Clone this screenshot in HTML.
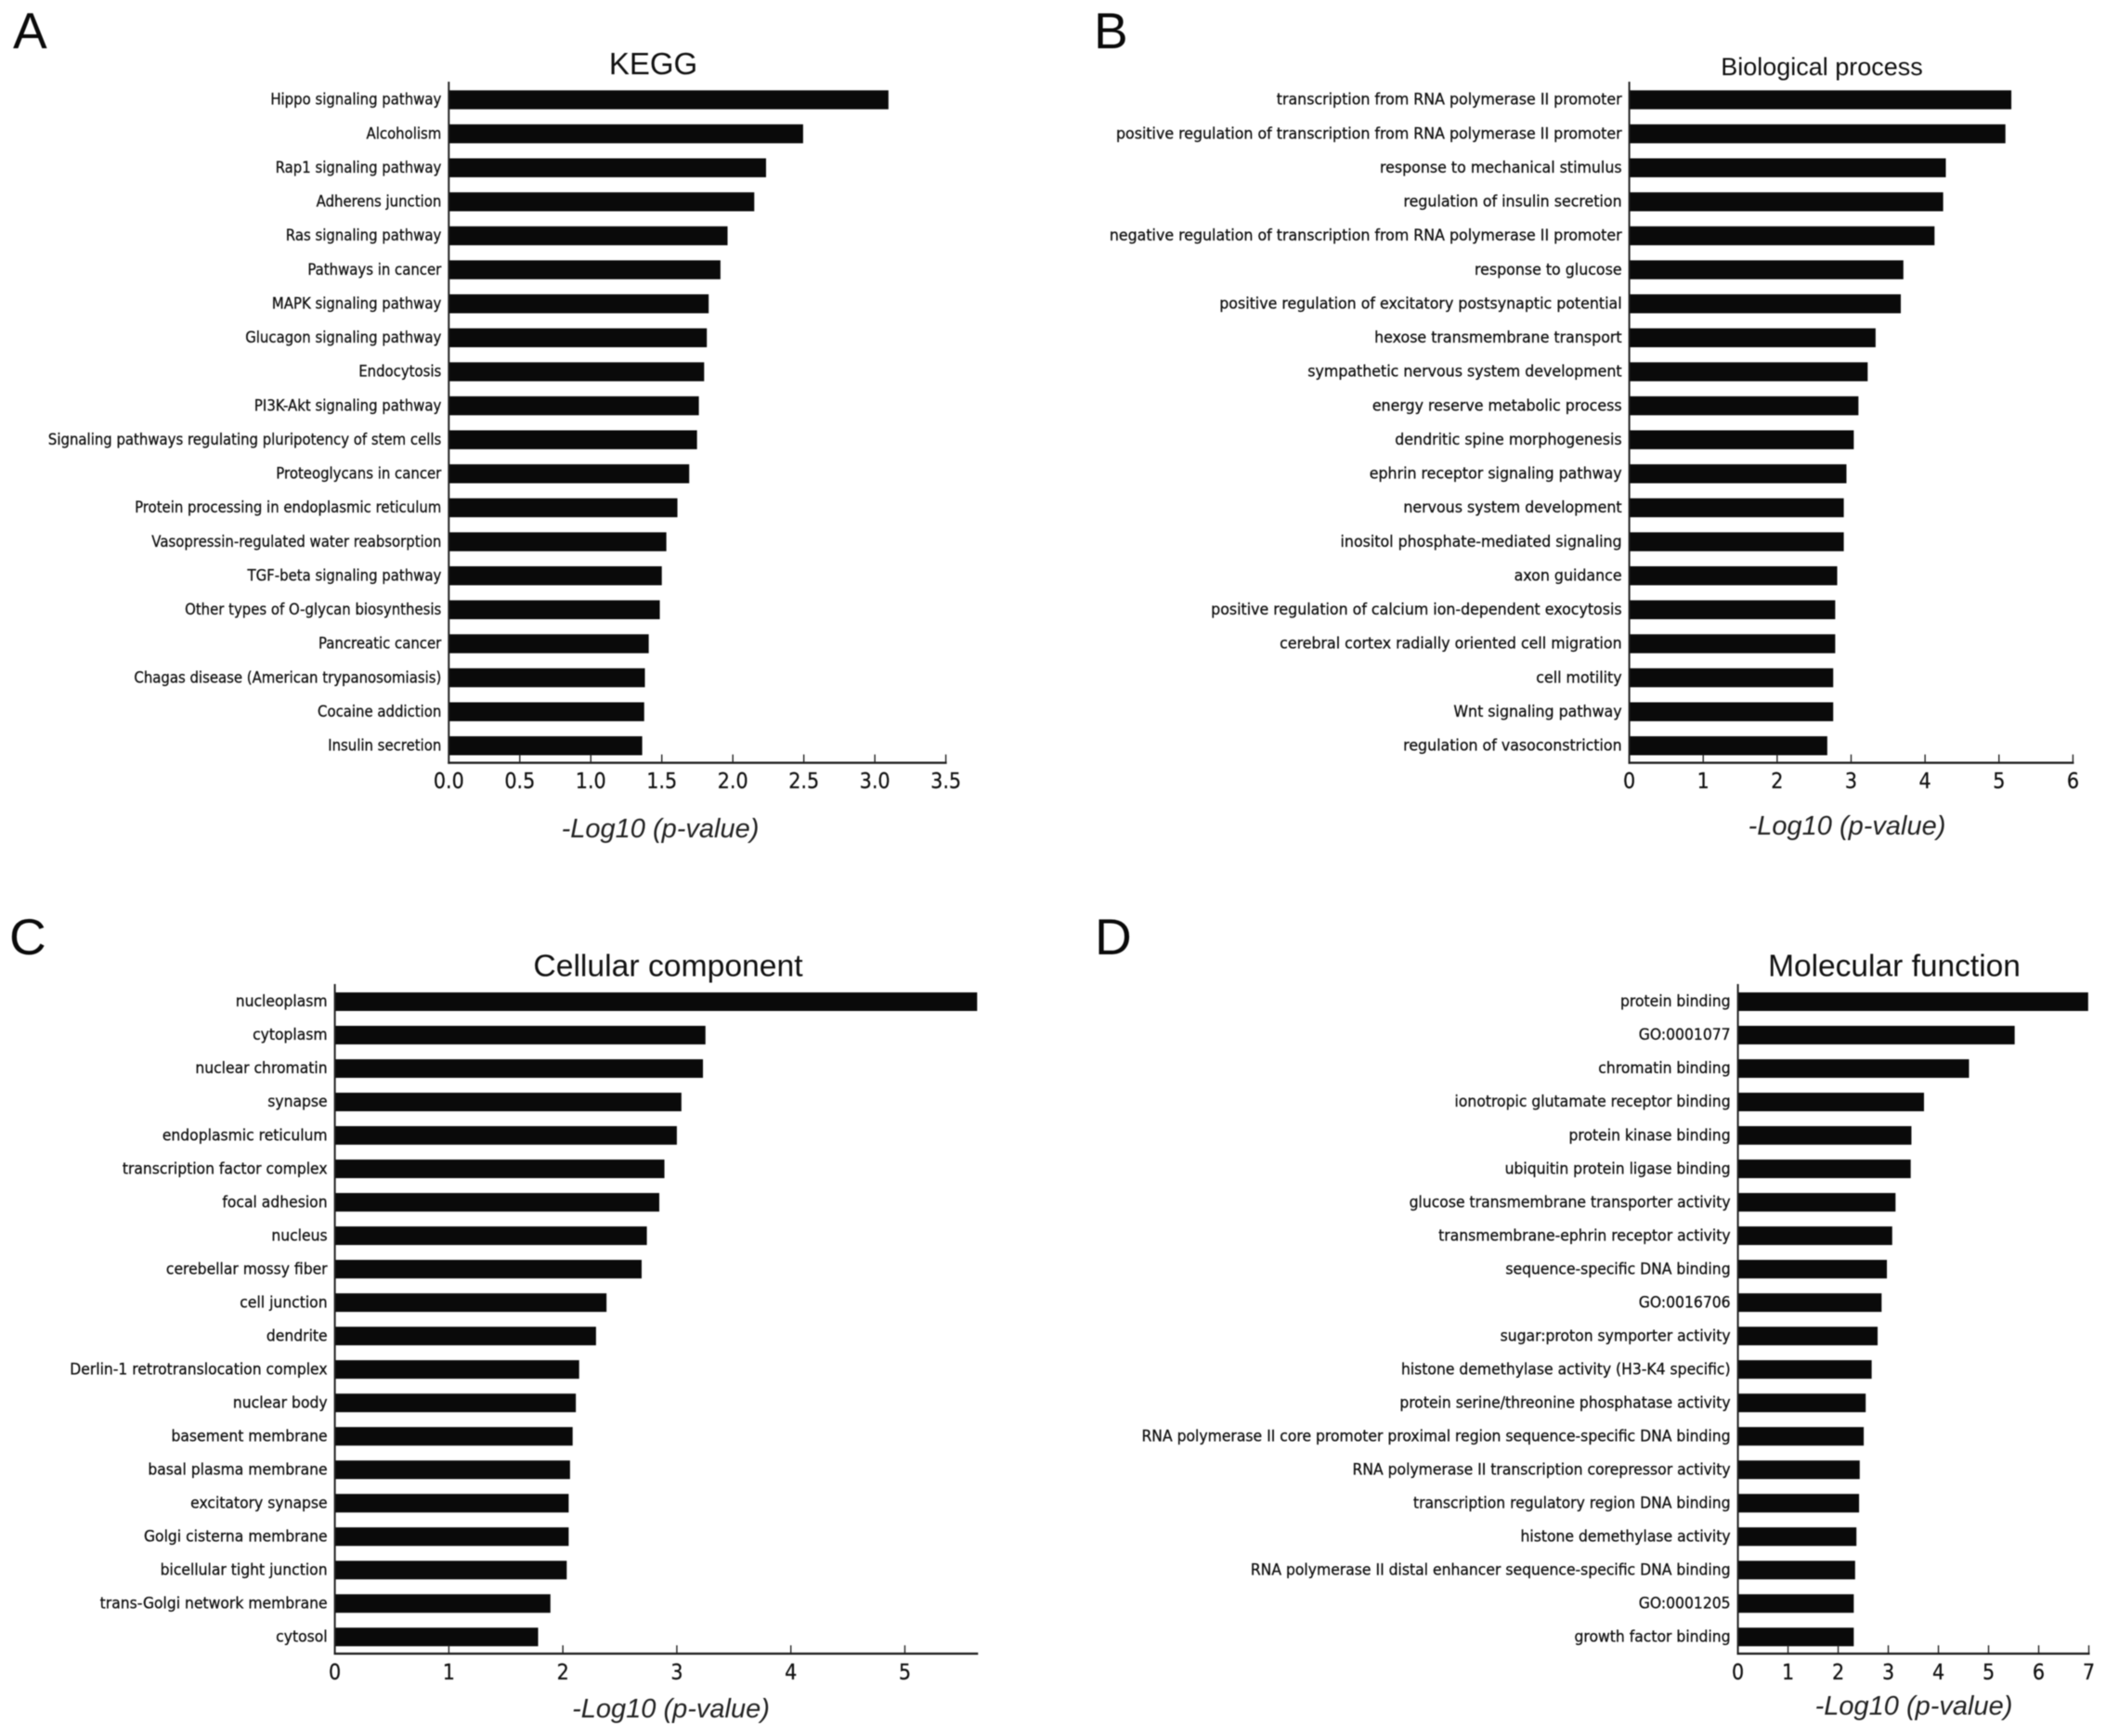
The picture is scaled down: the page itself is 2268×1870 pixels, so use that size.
<!DOCTYPE html>
<html lang="en">
<head>
<meta charset="utf-8">
<title>GO and KEGG enrichment bar charts</title>
<style>
html,body{margin:0;padding:0;background:#fff;}
#figure{display:block;width:2268px;height:1870px;filter:blur(0.55px);}
.letter{font-family:"Liberation Sans",sans-serif;font-size:55px;fill:#0a0a0a;}
.title{font-family:"Liberation Sans",sans-serif;fill:#111;text-anchor:middle;}
.xlabel{font-family:"Liberation Sans",sans-serif;font-style:italic;font-size:29px;fill:#222;text-anchor:middle;}
.cat{font-family:"DejaVu Sans",sans-serif;font-size:16.5px;fill:#111;stroke:#111;stroke-width:0.3px;text-anchor:end;}
.tick{font-family:"DejaVu Sans",sans-serif;font-size:23px;fill:#111;stroke:#111;stroke-width:0.25px;text-anchor:middle;}
</style>
</head>
<body>
<svg id="figure" xmlns="http://www.w3.org/2000/svg" width="2268" height="1870" viewBox="0 0 2268 1870">
  <rect width="2268" height="1870" fill="#fff"/>
  <text class="letter" x="14" y="52">A</text>
  <text class="letter" x="1178" y="52">B</text>
  <text class="letter" x="10" y="1028">C</text>
  <text class="letter" x="1179" y="1028">D</text>

  <text class="title" x="703.5" y="80" font-size="33">KEGG</text>
  <text class="title" x="1962" y="81" font-size="27">Biological process</text>
  <text class="title" x="719.5" y="1051.5" font-size="33.7">Cellular component</text>
  <text class="title" x="2040" y="1051.5" font-size="33.5">Molecular function</text>

  <text class="xlabel" x="711" y="902">-Log10 (p-value)</text>
  <text class="xlabel" x="1989" y="899">-Log10 (p-value)</text>
  <text class="xlabel" x="722.5" y="1850">-Log10 (p-value)</text>
  <text class="xlabel" x="2061" y="1847">-Log10 (p-value)</text>

  <g id="panel-a"></g>
  <g id="panel-b"></g>
  <g id="panel-c"></g>
  <g id="panel-d"></g>
</svg>
<script>
const keggCategories = ["Hippo signaling pathway","Alcoholism","Rap1 signaling pathway","Adherens junction","Ras signaling pathway","Pathways in cancer","MAPK signaling pathway","Glucagon signaling pathway","Endocytosis","PI3K-Akt signaling pathway","Signaling pathways regulating pluripotency of stem cells","Proteoglycans in cancer","Protein processing in endoplasmic reticulum","Vasopressin-regulated water reabsorption","TGF-beta signaling pathway","Other types of O-glycan biosynthesis","Pancreatic cancer","Chagas disease (American trypanosomiasis)","Cocaine addiction","Insulin secretion"];
const keggValues = [3.096,2.495,2.234,2.151,1.963,1.913,1.830,1.817,1.798,1.761,1.748,1.693,1.610,1.532,1.500,1.486,1.408,1.381,1.376,1.362];
const keggTicks = ["0.0","0.5","1.0","1.5","2.0","2.5","3.0","3.5"];

const bioCategories = ["transcription from RNA polymerase II promoter","positive regulation of transcription from RNA polymerase II promoter","response to mechanical stimulus","regulation of insulin secretion","negative regulation of transcription from RNA polymerase II promoter","response to glucose","positive regulation of excitatory postsynaptic potential","hexose transmembrane transport","sympathetic nervous system development","energy reserve metabolic process","dendritic spine morphogenesis","ephrin receptor signaling pathway","nervous system development","inositol phosphate-mediated signaling","axon guidance","positive regulation of calcium ion-dependent exocytosis","cerebral cortex radially oriented cell migration","cell motility","Wnt signaling pathway","regulation of vasoconstriction"];
const bioValues = [5.167,5.087,4.281,4.245,4.128,3.707,3.672,3.331,3.224,3.099,3.036,2.937,2.901,2.901,2.812,2.785,2.785,2.758,2.758,2.678];
const bioTicks = ["0","1","2","3","4","5","6"];

const cellCategories = ["nucleoplasm","cytoplasm","nuclear chromatin","synapse","endoplasmic reticulum","transcription factor complex","focal adhesion","nucleus","cerebellar mossy fiber","cell junction","dendrite","Derlin-1 retrotranslocation complex","nuclear body","basement membrane","basal plasma membrane","excitatory synapse","Golgi cisterna membrane","bicellular tight junction","trans-Golgi network membrane","cytosol"];
const cellValues = [5.634,3.251,3.229,3.040,3.000,2.891,2.846,2.737,2.691,2.383,2.291,2.143,2.114,2.086,2.063,2.051,2.051,2.034,1.891,1.783];
const cellTicks = ["0","1","2","3","4","5"];

const molCategories = ["protein binding","GO:0001077","chromatin binding","ionotropic glutamate receptor binding","protein kinase binding","ubiquitin protein ligase binding","glucose transmembrane transporter activity","transmembrane-ephrin receptor activity","sequence-specific DNA binding","GO:0016706","sugar:proton symporter activity","histone demethylase activity (H3-K4 specific)","protein serine/threonine phosphatase activity","RNA polymerase II core promoter proximal region sequence-specific DNA binding","RNA polymerase II transcription corepressor activity","transcription regulatory region DNA binding","histone demethylase activity","RNA polymerase II distal enhancer sequence-specific DNA binding","GO:0001205","growth factor binding"];
const molValues = [6.987,5.521,4.610,3.712,3.461,3.447,3.144,3.078,2.972,2.866,2.787,2.668,2.549,2.510,2.430,2.417,2.364,2.338,2.311,2.311];
const molTicks = ["0","1","2","3","4","5","6","7"];

const SVG_NS = "http://www.w3.org/2000/svg";
const TICK_SQUEEZE = 0.9;

function make(tag, attrs, parent) {
  const el = document.createElementNS(SVG_NS, tag);
  for (const key in attrs) el.setAttribute(key, attrs[key]);
  parent.appendChild(el);
  return el;
}

function drawChart(id, categories, values, ticks, frame) {
  const group = document.getElementById(id);
  const xScale = v => frame.left + (v / frame.xMax) * (frame.right - frame.left);
  const yScale = i => frame.firstRow + i * (frame.lastRow - frame.firstRow) / (categories.length - 1);

  values.forEach((v, i) => {
    const bar = make("rect", {x: xScale(0), y: yScale(i) - frame.barHeight / 2, width: xScale(v) - xScale(0), height: frame.barHeight, fill: "#0a0a0a"}, group);
    
    

    const label = make("text", {"class": "cat", transform: `translate(${xScale(0) - 8},${yScale(i) + 5.2}) scale(${frame.labelSqueeze},1)`}, group);
    
    
    label.textContent = categories[i];
  });

  const yAxis = make("line", {x1: xScale(0), x2: xScale(0), y1: frame.top, y2: frame.bottom + 1, stroke: "#222", "stroke-width": 2}, group);
  
  

  const xAxis = make("line", {x1: xScale(0) - 1, x2: xScale(frame.xMax) + 1, y1: frame.bottom, y2: frame.bottom, stroke: "#222", "stroke-width": 2.4}, group);
  
  

  ticks.forEach(t => {
    const v = parseFloat(t);
    const mark = make("line", {x1: xScale(v), x2: xScale(v), y1: frame.bottom - 9, y2: frame.bottom, stroke: "#222", "stroke-width": 1.4}, group);
    
    

    const tickLabel = make("text", {"class": "tick", transform: `translate(${xScale(v)},${frame.bottom + 27.5}) scale(${TICK_SQUEEZE},1)`}, group);
    
    
    tickLabel.textContent = t;
  });
}

drawChart("panel-a", keggCategories, keggValues, keggTicks, {left: 483.3, right: 1018.6, xMax: 3.5, top: 88, bottom: 821.7, firstRow: 107.5, lastRow: 803.3, barHeight: 20.4, labelSqueeze: 0.903});
drawChart("panel-b", bioCategories, bioValues, bioTicks, {left: 1754.6, right: 2232.4, xMax: 6, top: 88, bottom: 821.7, firstRow: 107.5, lastRow: 803.3, barHeight: 20.4, labelSqueeze: 0.96});
drawChart("panel-c", cellCategories, cellValues, cellTicks, {left: 360.6, right: 1052.3, xMax: 5.634, top: 1060, bottom: 1781.3, firstRow: 1079, lastRow: 1763.3, barHeight: 20, labelSqueeze: 0.945});
drawChart("panel-d", molCategories, molValues, molTicks, {left: 1871.6, right: 2249.5, xMax: 7, top: 1060, bottom: 1781.3, firstRow: 1079, lastRow: 1763.3, barHeight: 20, labelSqueeze: 0.947});
</script>
</body>
</html>
